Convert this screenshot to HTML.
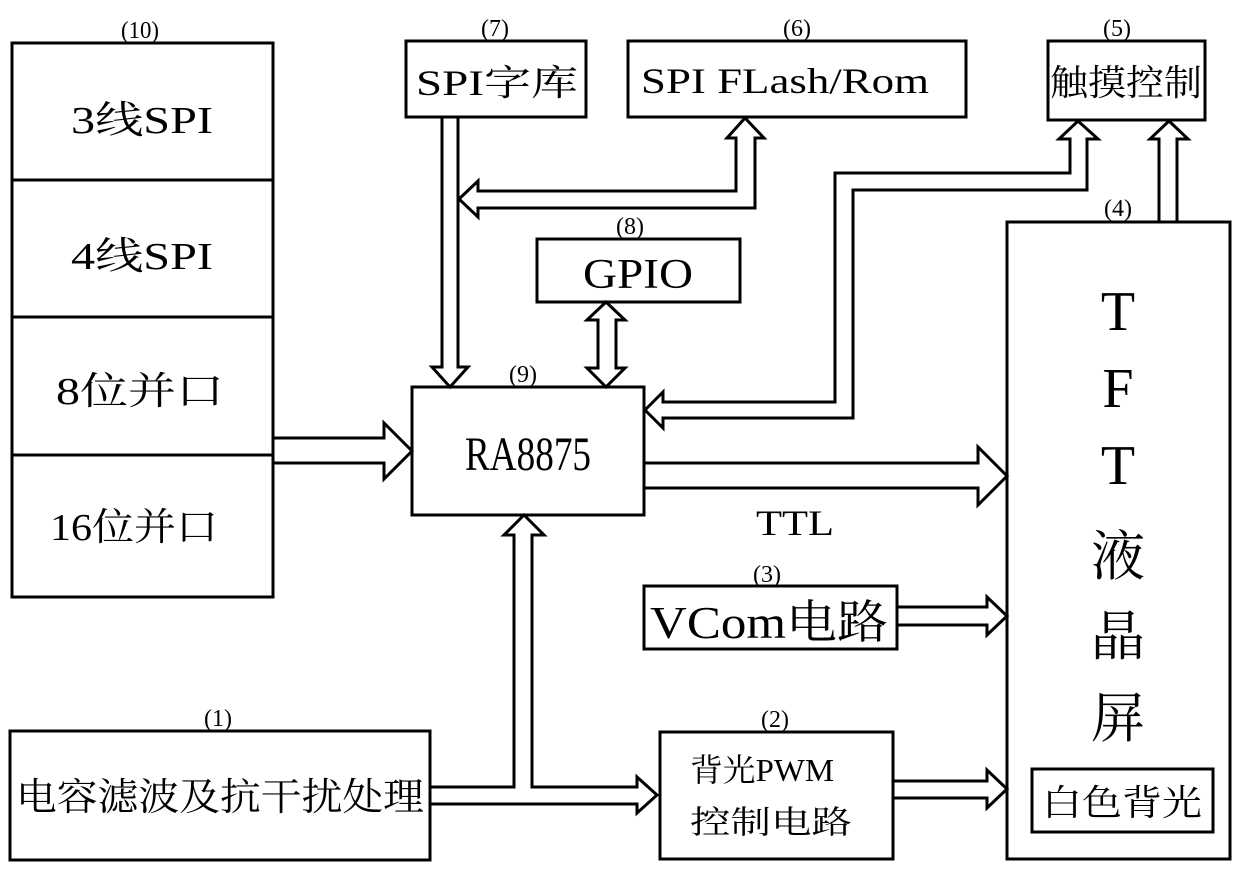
<!DOCTYPE html>
<html><head><meta charset="utf-8"><style>
html,body{margin:0;padding:0;background:#fff;}
svg{display:block;}
text{font-family:"Liberation Serif","Noto Serif CJK SC",serif;fill:#000;}
.b{fill:#fff;stroke:#000;stroke-width:3;}
.a{fill:#fff;stroke:#000;stroke-width:3;stroke-linejoin:miter;}
.n{font-size:24px;}
</style></head><body>
<svg width="1240" height="870" viewBox="0 0 1240 870">
<!-- Box 10 -->
<rect class="b" x="12" y="43" width="261" height="554"/>
<line x1="12" y1="180" x2="273" y2="180" stroke="#000" stroke-width="3"/>
<line x1="12" y1="317" x2="273" y2="317" stroke="#000" stroke-width="3"/>
<line x1="12" y1="455" x2="273" y2="455" stroke="#000" stroke-width="3"/>
<text class="n" x="140" y="38" text-anchor="middle" textLength="38" lengthAdjust="spacingAndGlyphs">(10)</text>
<text x="71" y="133" font-size="38" textLength="142" lengthAdjust="spacingAndGlyphs">3线SPI</text>
<text x="71" y="269" font-size="38" textLength="142" lengthAdjust="spacingAndGlyphs">4线SPI</text>
<text x="56" y="404" font-size="38" textLength="168" lengthAdjust="spacingAndGlyphs">8位并口</text>
<text x="50" y="540" font-size="38" textLength="168" lengthAdjust="spacingAndGlyphs">16位并口</text>

<!-- SPI字库 -->
<rect class="b" x="406" y="41" width="180" height="76"/>
<text class="n" x="495" y="36" text-anchor="middle" textLength="28" lengthAdjust="spacingAndGlyphs">(7)</text>
<text x="416" y="95" font-size="36" textLength="162" lengthAdjust="spacingAndGlyphs">SPI字库</text>
<!-- Flash -->
<rect class="b" x="628" y="41" width="338" height="76"/>
<text class="n" x="797" y="36" text-anchor="middle" textLength="28" lengthAdjust="spacingAndGlyphs">(6)</text>
<text x="641" y="93" font-size="36" textLength="288" lengthAdjust="spacingAndGlyphs">SPI FLash/Rom</text>
<!-- 触摸 -->
<rect class="b" x="1048" y="41" width="157" height="79"/>
<text class="n" x="1117" y="36" text-anchor="middle" textLength="28" lengthAdjust="spacingAndGlyphs">(5)</text>
<text x="1050" y="95" font-size="36" textLength="152" lengthAdjust="spacingAndGlyphs">触摸控制</text>
<!-- GPIO -->
<rect class="b" x="537" y="239" width="203" height="63"/>
<text class="n" x="630" y="234" text-anchor="middle" textLength="28" lengthAdjust="spacingAndGlyphs">(8)</text>
<text x="638" y="288" font-size="42" text-anchor="middle" textLength="110" lengthAdjust="spacingAndGlyphs">GPIO</text>
<!-- RA8875 -->
<rect class="b" x="412" y="387" width="232" height="128"/>
<text class="n" x="523" y="382" text-anchor="middle" textLength="28" lengthAdjust="spacingAndGlyphs">(9)</text>
<text x="528" y="470" font-size="48" text-anchor="middle" textLength="126" lengthAdjust="spacingAndGlyphs">RA8875</text>
<text x="795" y="535" font-size="36" text-anchor="middle" textLength="78" lengthAdjust="spacingAndGlyphs">TTL</text>
<!-- TFT -->
<rect class="b" x="1007" y="222" width="223" height="637"/>
<text class="n" x="1118" y="216" text-anchor="middle" textLength="28" lengthAdjust="spacingAndGlyphs">(4)</text>
<text x="1118" y="330" font-size="56" text-anchor="middle">T</text>
<text x="1118" y="407" font-size="56" text-anchor="middle">F</text>
<text x="1118" y="484" font-size="56" text-anchor="middle">T</text>
<text x="1118" y="575" font-size="54" text-anchor="middle">液</text>
<text x="1118" y="655" font-size="54" text-anchor="middle">晶</text>
<text x="1118" y="737" font-size="54" text-anchor="middle">屏</text>
<rect class="b" x="1032" y="769" width="181" height="63"/>
<text x="1122" y="815" font-size="36" text-anchor="middle" textLength="160" lengthAdjust="spacingAndGlyphs">白色背光</text>
<!-- VCom -->
<rect class="b" x="644" y="586" width="253" height="63"/>
<text class="n" x="767" y="582" text-anchor="middle" textLength="28" lengthAdjust="spacingAndGlyphs">(3)</text>
<text x="650" y="638" font-size="46" textLength="238" lengthAdjust="spacingAndGlyphs">VCom电路</text>
<!-- PWM -->
<rect class="b" x="660" y="732" width="233" height="127"/>
<text class="n" x="775" y="727" text-anchor="middle" textLength="28" lengthAdjust="spacingAndGlyphs">(2)</text>
<text x="690" y="781" font-size="32" textLength="144" lengthAdjust="spacingAndGlyphs">背光PWM</text>
<text x="690" y="833" font-size="32" textLength="162" lengthAdjust="spacingAndGlyphs">控制电路</text>
<!-- 电容 -->
<rect class="b" x="10" y="731" width="420" height="129"/>
<text class="n" x="218" y="726" text-anchor="middle" textLength="28" lengthAdjust="spacingAndGlyphs">(1)</text>
<text x="16" y="810" font-size="38" textLength="408" lengthAdjust="spacingAndGlyphs">电容滤波及抗干扰处理</text>

<!-- arrows -->
<polygon class="a" points="442,117 442,367 432,367 450,387 468,367 458,367 458,117"/>
<polygon class="a" points="459,199 478,181 478,191 736,191 736,138 727,138 745,118 764,138 755,138 755,208 478,208 478,217"/>
<polygon class="a" points="606,302 587,320 598,320 598,368 587,368 606,387 625,368 616,368 616,320 625,320"/>
<polygon class="a" points="645,410 663,392 663,402 835,402 835,173 1070,173 1070,139 1059,139 1078,121 1098,139 1087,139 1087,190 853,190 853,418 663,418 663,428"/>
<polygon class="a" points="1159,222 1159,139 1150,139 1169,121 1188,139 1177,139 1177,222"/>
<polygon class="a" points="273,438 384,438 384,423 412,451 384,479 384,463 273,463"/>
<polygon class="a" points="644,463 978,463 978,447 1007,476 978,505 978,488 644,488"/>
<polygon class="a" points="897,607 987,607 987,597 1007,616 987,635 987,625 897,625"/>
<polygon class="a" points="893,781 987,781 987,770 1007,789 987,808 987,798 893,798"/>
<polygon class="a" points="430,787 514,787 514,535 504,535 524,515 544,535 532,535 532,787 637,787 637,777 657,795 637,813 637,804 430,804"/>
</svg>
</body></html>
